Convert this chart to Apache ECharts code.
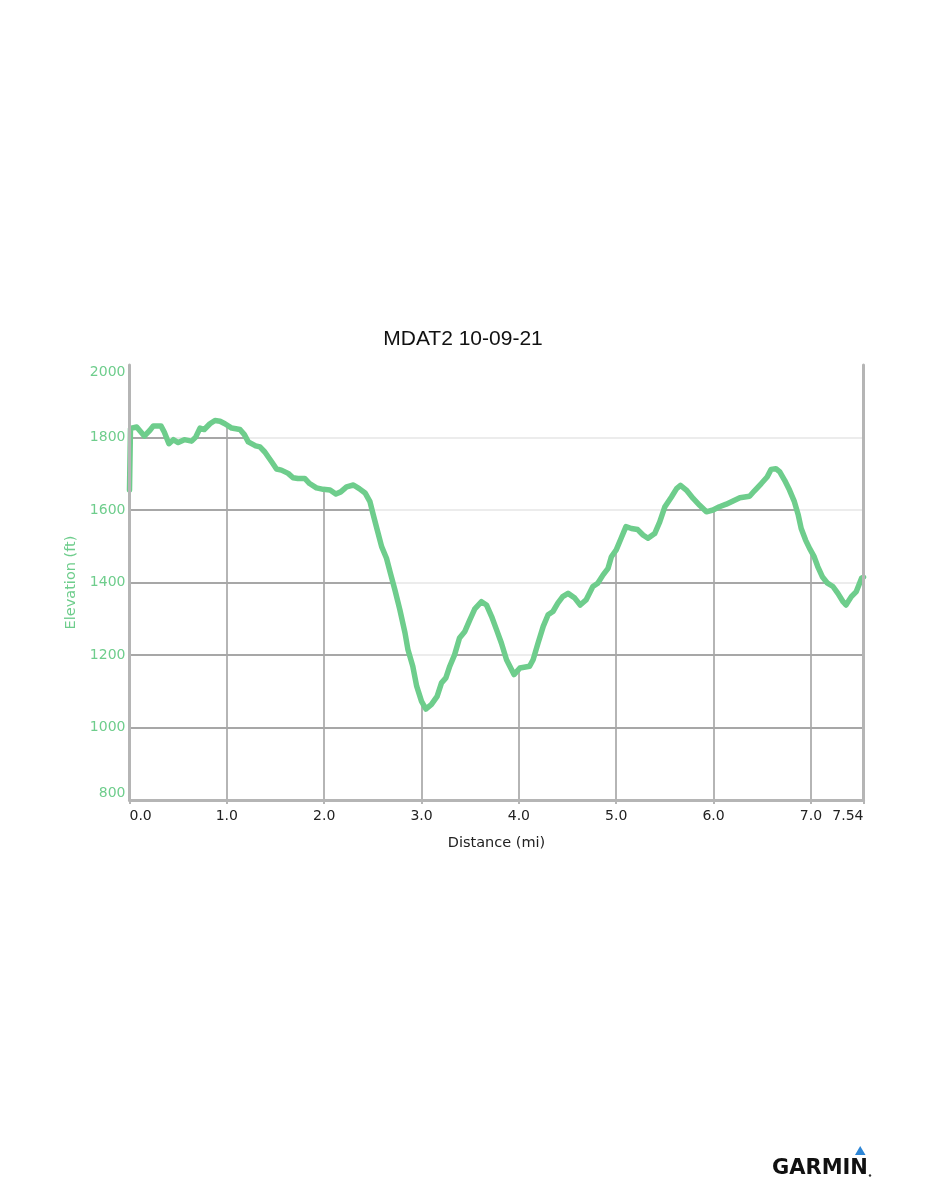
<!DOCTYPE html>
<html>
<head>
<meta charset="utf-8">
<script src="https://cdn.jsdelivr.net/npm/echarts@6/dist/echarts.min.js"></script>
<style>
html,body{margin:0;padding:0;background:#fff;}
#chart{width:926px;height:1200px;}
</style>
</head>
<body>
<div id="chart"></div>
<script>
const titleText = 'MDAT2 10-09-21';
const xName = 'Distance (mi)';
const yName = 'Elevation (ft)';
const xTicks = [0, 1, 2, 3, 4, 5, 6, 7, 7.54];
const xTickLabels = ['0.0', '1.0', '2.0', '3.0', '4.0', '5.0', '6.0', '7.0', '7.54'];
const yTicks = [800, 1000, 1200, 1400, 1600, 1800, 2000];
const yTickLabels = ['800', '1000', '1200', '1400', '1600', '1800', '2000'];

const distance = [
  0, 0.01, 0.074, 0.092, 0.152, 0.21, 0.245, 0.296, 0.323, 0.357,
  0.405, 0.45, 0.50, 0.563, 0.638, 0.68, 0.724, 0.768, 0.826, 0.878,
  0.93, 0.98, 1.05, 1.135, 1.18, 1.22, 1.296, 1.34, 1.39, 1.46,
  1.51, 1.56, 1.63, 1.68, 1.73, 1.80, 1.85, 1.92, 1.99, 2.06,
  2.12, 2.17, 2.23, 2.30, 2.36, 2.42, 2.47, 2.50, 2.545, 2.59,
  2.64, 2.68, 2.726, 2.777, 2.83, 2.86, 2.91, 2.95, 3.00, 3.044,
  3.10, 3.16, 3.205, 3.25, 3.29, 3.34, 3.39, 3.445, 3.496, 3.547,
  3.616, 3.667, 3.72, 3.77, 3.82, 3.873, 3.95, 4.01, 4.11, 4.146,
  4.197, 4.25, 4.30, 4.35, 4.40, 4.45, 4.505, 4.574, 4.63, 4.69,
  4.76, 4.81, 4.865, 4.916, 4.95, 5.00, 5.05, 5.10, 5.156, 5.22,
  5.275, 5.326, 5.395, 5.447, 5.50, 5.567, 5.62, 5.66, 5.72, 5.79,
  5.857, 5.926, 5.994, 6.06, 6.13, 6.20, 6.27, 6.32, 6.37, 6.42,
  6.49, 6.55, 6.59, 6.64, 6.68, 6.73, 6.78, 6.83, 6.87, 6.90,
  6.945, 6.986, 7.03, 7.07, 7.117, 7.17, 7.226, 7.277, 7.33, 7.36,
  7.415, 7.466, 7.52, 7.54
];
const elevation = [
  1655, 1825, 1829, 1826, 1804, 1820, 1832, 1832, 1832, 1815,
  1783, 1794, 1786, 1794, 1790, 1801, 1826, 1822, 1838, 1847,
  1845, 1838, 1826, 1822, 1808, 1788, 1777, 1774, 1760, 1733,
  1713, 1710, 1701, 1689, 1687, 1687, 1673, 1661, 1657, 1655,
  1644, 1650, 1664, 1669, 1659, 1647, 1623, 1591, 1545, 1499,
  1467, 1426, 1380, 1325, 1261, 1215, 1169, 1114, 1072, 1051,
  1063, 1086, 1123, 1137, 1169, 1201, 1247, 1265, 1297, 1327,
  1347, 1338, 1306, 1270, 1233, 1187, 1146, 1164, 1169, 1187,
  1233, 1279, 1311, 1320, 1343, 1361, 1370, 1357, 1338, 1352,
  1389, 1398, 1421, 1439, 1471, 1490, 1522, 1554, 1549, 1546,
  1531, 1522, 1535, 1567, 1609, 1636, 1659, 1668, 1655, 1632,
  1613, 1595, 1600, 1609, 1616, 1625, 1634, 1636, 1638, 1653,
  1673, 1691, 1712, 1714, 1705, 1682, 1655, 1623, 1586, 1549,
  1517, 1494, 1473, 1444, 1416, 1398, 1389, 1370, 1347, 1338,
  1361, 1375, 1412, 1415
];

const GREEN = '#6ecd8c';
const GRID_DARK = '#b5b5b5';
const FONT = '"DejaVu Sans", Verdana, sans-serif';

const xMin = xTicks[0], xMax = xTicks[xTicks.length - 1];
const yMin = yTicks[0], yMax = yTicks[yTicks.length - 1];
const yStep = yTicks[1] - yTicks[0];

const lineData = distance.map((d, i) => [d, elevation[i]]);

function tickLabel(ticks, labels) {
  return v => {
    const i = ticks.findIndex(t => Math.abs(t - v) < 1e-6);
    return i >= 0 ? labels[i] : '';
  };
}

const chart = echarts.init(document.getElementById('chart'), null, {renderer: 'canvas'});
chart.setOption({
  animation: false,
  backgroundColor: '#ffffff',
  title: {
    text: titleText,
    left: 'center',
    top: 324,
    textStyle: {color: '#111', fontSize: 21, fontWeight: 'normal', fontFamily: '"Liberation Sans", Arial, sans-serif'}
  },
  grid: {left: 129.5, right: 62.5, top: 365, bottom: 400, containLabel: false},
  xAxis: {
    type: 'value', min: xMin, max: xMax, interval: 1,
    name: xName, nameLocation: 'middle', nameGap: 36,
    nameTextStyle: {color: '#222', fontSize: 14.5, fontFamily: FONT},
    axisLine: {show: true, lineStyle: {color: GRID_DARK, width: 3}},
    axisTick: {show: true, length: 4, lineStyle: {color: GRID_DARK, width: 2}},
    axisLabel: {
      color: '#222', fontSize: 14, fontFamily: FONT, margin: 9,
      showMinLabel: true, showMaxLabel: true,
      alignMinLabel: 'left', alignMaxLabel: 'right',
      formatter: tickLabel(xTicks, xTickLabels)
    },
    splitLine: {show: true, lineStyle: {color: GRID_DARK, width: 2}}
  },
  yAxis: [
    {
      type: 'value', min: yMin, max: yMax, interval: yStep, position: 'left', z: 0,
      axisLine: {show: false}, axisTick: {show: false}, axisLabel: {show: false},
      splitLine: {show: true, showMaxLine: false, lineStyle: {color: GRID_DARK, width: 2}}
    },
    {
      type: 'value', min: yMin, max: yMax, interval: yStep, position: 'left', z: 10,
      name: yName, nameLocation: 'middle', nameGap: 48,
      nameTextStyle: {color: GREEN, fontSize: 14.5, fontFamily: FONT},
      axisLine: {show: true, lineStyle: {color: GRID_DARK, width: 3}},
      axisTick: {show: false},
      axisLabel: {
        color: GREEN, fontSize: 14, fontFamily: FONT, margin: 4,
        verticalAlignMinLabel: 'bottom', verticalAlignMaxLabel: 'top',
        formatter: tickLabel(yTicks, yTickLabels)
      },
      splitLine: {show: false}
    },
    {
      type: 'value', min: yMin, max: yMax, interval: yStep, position: 'right', z: 10,
      axisLine: {show: true, lineStyle: {color: GRID_DARK, width: 3}},
      axisTick: {show: false}, axisLabel: {show: false}, splitLine: {show: false}
    }
  ],
  series: [
    {
      name: 'cover', type: 'line', yAxisIndex: 0, z: 1,
      data: lineData, showSymbol: false, symbol: 'none',
      lineStyle: {width: 0, opacity: 0},
      areaStyle: {color: '#ffffff', opacity: 1, origin: 'end'},
      silent: true,
      markLine: {
        silent: true, symbol: 'none', z: 2,
        label: {show: false},
        lineStyle: {color: 'rgba(0,0,0,0.075)', width: 2, type: 'solid'},
        data: yTicks.slice(1, -1).map(v => ({yAxis: v}))
      }
    },
    {
      name: 'Elevation', type: 'line', yAxisIndex: 0, z: 5,
      data: lineData, showSymbol: false, symbol: 'none', smooth: false,
      lineStyle: {color: GREEN, width: 5.5, join: 'round', cap: 'round'},
      itemStyle: {color: GREEN}
    }
  ],
  graphic: [
    {type: 'polygon', shape: {points: [[855, 1155], [865.5, 1155], [860.2, 1146]]}, style: {fill: '#2e86d6'}},
    {type: 'text', x: 772, y: 1169, style: {text: 'GARMIN', fill: '#111', font: 'bold 21px "DejaVu Sans", sans-serif', verticalAlign: 'middle'}},
    {type: 'circle', shape: {cx: 870, cy: 1175.5, r: 1.2}, style: {fill: '#333'}}
  ]
});
</script>
</body>
</html>
